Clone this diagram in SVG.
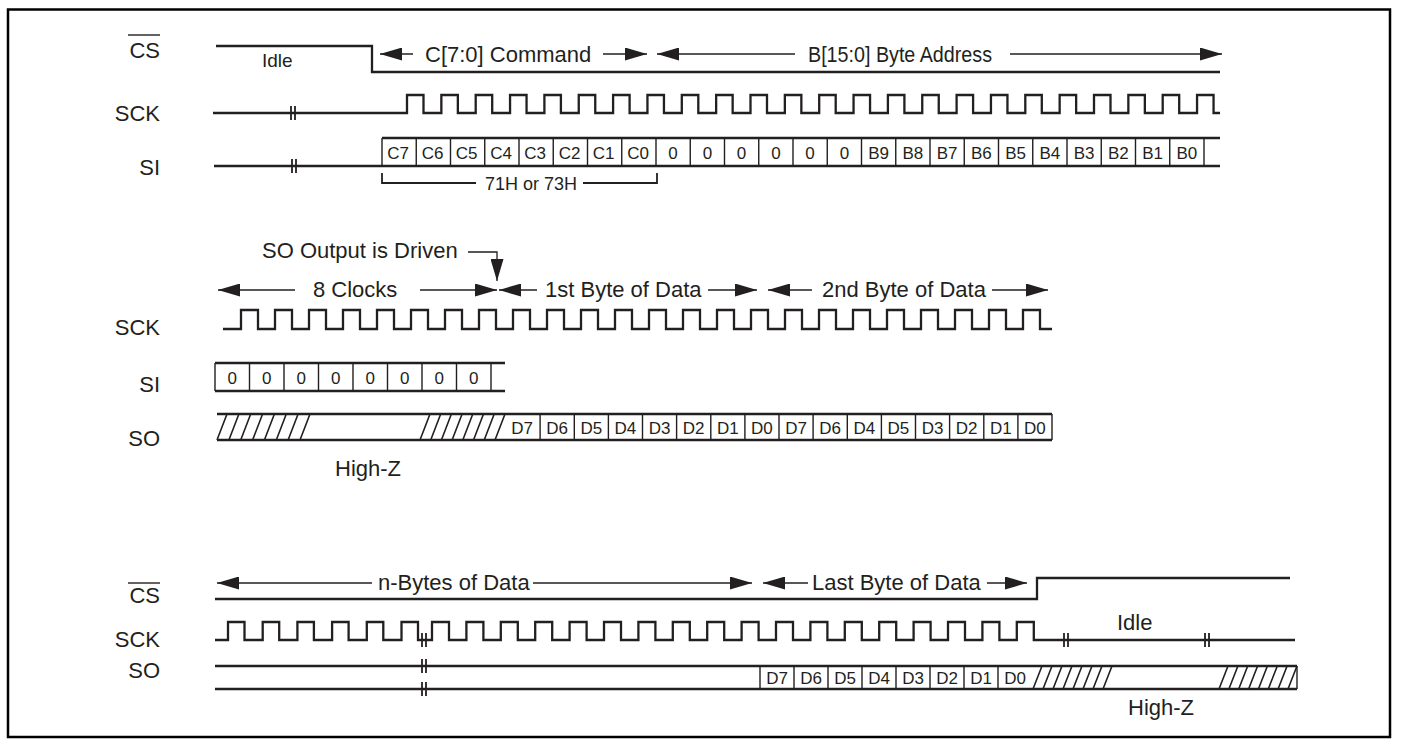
<svg xmlns="http://www.w3.org/2000/svg" width="1401" height="745" viewBox="0 0 1401 745">
<defs>
<style>
.sig{fill:none;stroke:#231f20;stroke-width:2.3;stroke-linejoin:miter}
.div{fill:none;stroke:#231f20;stroke-width:1.4}
.arr{fill:none;stroke:#231f20;stroke-width:1.3}
.brk{fill:none;stroke:#231f20;stroke-width:1.8}
.hatch{fill:none;stroke:#231f20;stroke-width:1.6}
text{font-family:"Liberation Sans",Arial,Helvetica,sans-serif;fill:#231f20}
.lbl{font-size:22px;text-anchor:end}
.ann{font-size:22px}
.cell{font-size:17px;text-anchor:middle}
</style>
<marker id="ah" viewBox="0 0 22 13" refX="22" refY="6.5" markerWidth="22" markerHeight="13" markerUnits="userSpaceOnUse" orient="auto-start-reverse">
<path d="M0,0 L22,6.5 L0,13 Z" fill="#231f20"/>
</marker>
</defs>
<rect x="0" y="0" width="1401" height="745" fill="#ffffff"/>
<rect id="frame" x="8" y="9.5" width="1382" height="727.5" fill="none" stroke="#000" stroke-width="2.5"/>

<!-- ===== TOP SECTION ===== -->
<g id="top-cs">
<text class="lbl" x="160" y="58">CS</text>
<line class="div" x1="128" y1="35" x2="160" y2="35"/>
<path class="sig" d="M216,46 H372 V72 H1220"/>
<text class="ann" x="262" y="67" style="font-size:19px">Idle</text>
</g>
<g id="top-sck">
<text class="lbl" x="160" y="121">SCK</text>
<path class="sig" d="M213,113 H407 v-18h16.5v18h17.85 v-18h16.5v18h17.85 v-18h16.5v18h17.85 v-18h16.5v18h17.85 v-18h16.5v18h17.85 v-18h16.5v18h17.85 v-18h16.5v18h17.85 v-18h16.5v18h17.85 v-18h16.5v18h17.85 v-18h16.5v18h17.85 v-18h16.5v18h17.85 v-18h16.5v18h17.85 v-18h16.5v18h17.85 v-18h16.5v18h17.85 v-18h16.5v18h17.85 v-18h16.5v18h17.85 v-18h16.5v18h17.85 v-18h16.5v18h17.85 v-18h16.5v18h17.85 v-18h16.5v18h17.85 v-18h16.5v18h17.85 v-18h16.5v18h17.85 v-18h16.5v18h17.85 v-18h16.5v18 H1220"/>
<path class="brk" d="M291,106 V120 M295,106 V120"/>
</g>
<g id="top-si">
<text class="lbl" x="160" y="175">SI</text>
<path class="sig" d="M214,166 H1220 M382,138 H1220"/>
<path class="brk" d="M292,159 V173 M296,159 V173"/>
<path class="div" d="M382,138V166 M416.25,138V166 M450.5,138V166 M484.75,138V166 M519,138V166 M553.25,138V166 M587.5,138V166 M621.75,138V166 M656,138V166 M690.25,138V166 M724.5,138V166 M758.75,138V166 M793,138V166 M827.25,138V166 M861.5,138V166 M895.75,138V166 M930,138V166 M964.25,138V166 M998.5,138V166 M1032.75,138V166 M1067,138V166 M1101.25,138V166 M1135.5,138V166 M1169.75,138V166 M1204,138V166"/>
<g class="cell">
<text x="398" y="158.5">C7</text><text x="432.5" y="158.5">C6</text><text x="466.5" y="158.5">C5</text><text x="501" y="158.5">C4</text><text x="535" y="158.5">C3</text><text x="569.5" y="158.5">C2</text><text x="603.5" y="158.5">C1</text><text x="638" y="158.5">C0</text>
<text x="673.1" y="158.5">0</text><text x="707.4" y="158.5">0</text><text x="741.6" y="158.5">0</text><text x="775.9" y="158.5">0</text><text x="810.1" y="158.5">0</text><text x="844.4" y="158.5">0</text>
<text x="878.6" y="158.5">B9</text><text x="912.9" y="158.5">B8</text><text x="947.1" y="158.5">B7</text><text x="981.4" y="158.5">B6</text><text x="1015.6" y="158.5">B5</text><text x="1049.9" y="158.5">B4</text><text x="1084.1" y="158.5">B3</text><text x="1118.4" y="158.5">B2</text><text x="1152.6" y="158.5">B1</text><text x="1186.9" y="158.5">B0</text>
</g>
</g>
<g id="top-bracket">
<path class="arr" style="stroke-width:1.8" d="M382,173 V183 H476 M583,183 H657 V173"/>
<text x="531" y="189.5" style="font-size:18px;text-anchor:middle">71H or 73H</text>
</g>

<!-- ===== MIDDLE SECTION ===== -->
<g id="mid-sck">
<text class="lbl" x="160" y="335">SCK</text>
<path class="sig" d="M223,329 H241 v-19h17v19h17 v-19h17v19h17 v-19h17v19h17 v-19h17v19h17 v-19h17v19h17 v-19h17v19h17 v-19h17v19h17 v-19h17v19h17 v-19h17v19h17 v-19h17v19h17 v-19h17v19h17 v-19h17v19h17 v-19h17v19h17 v-19h17v19h17 v-19h17v19h17 v-19h17v19h17 v-19h17v19h17 v-19h17v19h17 v-19h17v19h17 v-19h17v19h17 v-19h17v19h17 v-19h17v19h17 v-19h17v19h17 v-19h17v19 H1052"/>
</g>
<g id="mid-si">
<text class="lbl" x="160" y="392">SI</text>
<path class="sig" d="M215,363 H505 M215,391 H505"/>
<path class="div" d="M215,363V391 M249.5,363V391 M284,363V391 M318.5,363V391 M353,363V391 M387.5,363V391 M422,363V391 M456.5,363V391 M491,363V391"/>
<g class="cell">
<text x="232.3" y="383.5">0</text><text x="266.8" y="383.5">0</text><text x="301.3" y="383.5">0</text><text x="335.8" y="383.5">0</text><text x="370.3" y="383.5">0</text><text x="404.8" y="383.5">0</text><text x="439.3" y="383.5">0</text><text x="473.8" y="383.5">0</text>
</g>
</g>
<g id="mid-so">
<text class="lbl" x="160" y="446">SO</text>
<path class="sig" d="M217,414 H1052 M217,440 H1052"/>
<path class="hatch" d="M217,440L227,414 M228.9,440L238.9,414 M240.7,440L250.7,414 M252.6,440L262.6,414 M264.4,440L274.4,414 M276.3,440L286.3,414 M288.1,440L298.1,414 M300,440L310,414 M420,440L430,414 M430.7,440L440.7,414 M441.4,440L451.4,414 M452.1,440L462.1,414 M462.8,440L472.8,414 M473.5,440L483.5,414 M484.2,440L494.2,414 M495,440L505,414"/>
<path class="div" d="M540.1,414V440 M574.3,414V440 M608.4,414V440 M642.5,414V440 M676.6,414V440 M710.8,414V440 M744.9,414V440 M779,414V440 M813.1,414V440 M847.3,414V440 M881.4,414V440 M915.5,414V440 M949.6,414V440 M983.8,414V440 M1017.9,414V440 M1052,414V440"/>
<g class="cell">
<text x="522" y="433.5">D7</text><text x="557.2" y="433.5">D6</text><text x="591.3" y="433.5">D5</text><text x="625.4" y="433.5">D4</text><text x="659.6" y="433.5">D3</text><text x="693.7" y="433.5">D2</text><text x="727.8" y="433.5">D1</text><text x="761.9" y="433.5">D0</text>
<text x="796.1" y="433.5">D7</text><text x="830.2" y="433.5">D6</text><text x="864.3" y="433.5">D4</text><text x="898.4" y="433.5">D5</text><text x="932.6" y="433.5">D3</text><text x="966.7" y="433.5">D2</text><text x="1000.8" y="433.5">D1</text><text x="1034.9" y="433.5">D0</text>
</g>
<text class="ann" x="335" y="476">High-Z</text>
</g>

<!-- ===== BOTTOM SECTION ===== -->
<g id="bot-cs">
<text class="lbl" x="160" y="603">CS</text>
<line class="div" x1="128" y1="583" x2="160" y2="583"/>
<path class="sig" d="M215,599 H1037 V578 H1290"/>
</g>
<g id="bot-sck">
<text class="lbl" x="160" y="647">SCK</text>
<path class="sig" d="M215,640 H228 v-18h16.5v18h18.2 v-18h16.5v18h18.2 v-18h16.5v18h18.2 v-18h16.5v18h18.2 v-18h16.5v18h18.2 v-18h16.5v18 H432 v-18h17v18h17.4 v-18h17v18h17.4 v-18h17v18h17.4 v-18h17v18h17.4 v-18h17v18h17.4 v-18h17v18h17.4 v-18h17v18h17.4 v-18h17v18h17.4 v-18h17v18h17.4 v-18h17v18h17.4 v-18h17v18h17.4 v-18h17v18h17.4 v-18h17v18h17.4 v-18h17v18h17.4 v-18h17v18h17.4 v-18h17v18h17.4 v-18h17v18h17.4 v-18h17v18 H1295"/>
<path class="brk" d="M422,633V647 M426,633V647 M1064,633V647 M1068,633V647 M1205,633V647 M1209,633V647"/>
<text class="ann" x="1117" y="630">Idle</text>
</g>
<g id="bot-so">
<text class="lbl" x="160" y="678">SO</text>
<path class="sig" d="M215,666 H1297 M215,689 H1297"/>
<path class="brk" d="M422,659V673 M426,659V673 M422,682V696 M426,682V696"/>
<path class="div" d="M760,666V689 M794,666V689 M828,666V689 M862,666V689 M896,666V689 M930,666V689 M964,666V689 M998,666V689 M1297,666V689"/>
<path class="hatch" d="M1033,689L1042,666 M1043,689L1052,666 M1053,689L1062,666 M1063,689L1072,666 M1073,689L1082,666 M1083,689L1092,666 M1093,689L1102,666 M1103,689L1112,666 M1219,689L1228,666 M1228.9,689L1237.9,666 M1238.7,689L1247.7,666 M1248.6,689L1257.6,666 M1258.4,689L1267.4,666 M1268.3,689L1277.3,666 M1278.1,689L1287.1,666 M1288,689L1297,666"/>
<g class="cell">
<text x="777" y="684">D7</text><text x="811" y="684">D6</text><text x="845" y="684">D5</text><text x="879" y="684">D4</text><text x="913" y="684">D3</text><text x="947" y="684">D2</text><text x="981" y="684">D1</text><text x="1015" y="684">D0</text>
</g>
<text class="ann" x="1128" y="715">High-Z</text>
</g>

<!-- ===== ANNOTATION ARROWS ===== -->
<g id="connectors">
<line class="arr" x1="413" y1="54" x2="380" y2="54" marker-end="url(#ah)"/>
<text class="ann" x="425" y="62">C[7:0] Command</text>
<line class="arr" x1="603" y1="54" x2="647" y2="54" marker-end="url(#ah)"/>
<line class="arr" x1="795" y1="54" x2="657" y2="54" marker-end="url(#ah)"/>
<text class="ann" x="808" y="62" textLength="184" lengthAdjust="spacingAndGlyphs">B[15:0] Byte Address</text>
<line class="arr" x1="1010" y1="54" x2="1222" y2="54" marker-end="url(#ah)"/>

<text class="ann" x="262" y="258">SO Output is Driven</text>
<polyline class="arr" points="468,252 497,252 497,281" marker-end="url(#ah)"/>

<line class="arr" x1="295" y1="290" x2="218" y2="290" marker-end="url(#ah)"/>
<text class="ann" x="313" y="297">8 Clocks</text>
<line class="arr" x1="420" y1="290" x2="497" y2="290" marker-end="url(#ah)"/>
<line class="arr" x1="537" y1="290" x2="499" y2="290" marker-end="url(#ah)"/>
<text class="ann" x="545" y="297">1st Byte of Data</text>
<line class="arr" x1="708" y1="290" x2="757" y2="290" marker-end="url(#ah)"/>
<line class="arr" x1="812" y1="290" x2="768" y2="290" marker-end="url(#ah)"/>
<text class="ann" x="822" y="297">2nd Byte of Data</text>
<line class="arr" x1="992" y1="290" x2="1048" y2="290" marker-end="url(#ah)"/>

<line class="arr" x1="372" y1="583" x2="217" y2="583" marker-end="url(#ah)"/>
<text class="ann" x="378" y="590">n-Bytes of Data</text>
<line class="arr" x1="533" y1="583" x2="752" y2="583" marker-end="url(#ah)"/>
<line class="arr" x1="808" y1="583" x2="763" y2="583" marker-end="url(#ah)"/>
<text class="ann" x="812" y="590">Last Byte of Data</text>
<line class="arr" x1="987" y1="583" x2="1027" y2="583" marker-end="url(#ah)"/>
</g>
</svg>
